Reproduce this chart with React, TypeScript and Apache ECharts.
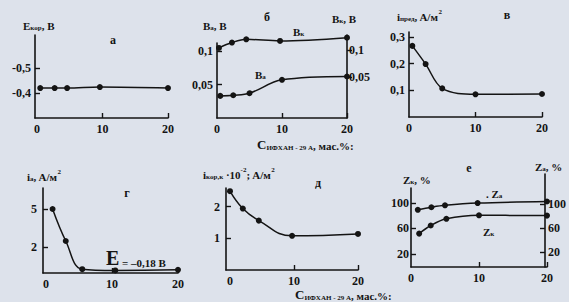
import React, { useEffect, useRef } from "react";
import * as echarts from "echarts";

// Panel а: E_кор vs concentration
const aX = [0.5, 2.7, 4.6, 9.6, 20];
const aY = [-0.42, -0.42, -0.42, -0.424, -0.42];
// Panel б: B_к (upper, right axis) and B_a (lower, left axis)
const bUpperX = [0.3, 2.3, 4.5, 9.7, 20];
const bUpperY = [0.104, 0.114, 0.12, 0.117, 0.123];
const bLowerX = [0.5, 2.5, 5, 10, 20];
const bLowerY = [0.033, 0.034, 0.037, 0.057, 0.062];
// Panel в: i_пред
const vX = [0.5, 2.5, 5, 10, 20];
const vY = [0.266, 0.198, 0.107, 0.085, 0.086];
// Panel г: i_a
const gX = [1, 3, 5.5, 10.5, 20];
const gY = [5.0, 2.5, 0.3, 0.2, 0.25];
// Panel д: i_кор,к ·10^-2
const dX = [0, 2, 4.5, 9.7, 20];
const dY = [2.49, 1.94, 1.56, 1.08, 1.14];
// Panel е: Z_a (upper), Z_к (lower)
const eUpperX = [1, 3, 5, 9.8, 20];
const eUpperY = [89, 93, 96, 99.5, 102];
const eLowerX = [1.2, 2.9, 5.2, 10, 20];
const eLowerY = [52, 64.6, 75, 80.5, 80];

// tick labels
const xLabelTicks = [0, 10, 20];
const aYTicks = [-0.5, -0.4];
const bLeftTicks = [0.05, 0.1];
const bRightTicks = [0.05, 0.1];
const vYTicks = [0.1, 0.2, 0.3];
const gYTicks = [2, 5];
const dYTicks = [1, 2];
const eLeftTicks = [20, 60, 100];
const eRightTicks = [20, 60, 100];

const INK = "#141414";
const BG = "#dde2eb";
const FONT = "Liberation Serif";

const pairs = (xs: number[], ys: number[]) => xs.map((x, i) => [x, ys[i]]);
const comma = (v: number) => String(v).replace(".", ",");

function xAxis(gridIndex: number, min: number, max: number, show = true): any {
  return {
    type: "value",
    gridIndex,
    min,
    max,
    show,
    axisLine: { show: true, onZero: false, lineStyle: { color: INK, width: 1.6 } },
    axisTick: { show: true, inside: true, length: 5, customValues: [10, 20], lineStyle: { color: INK, width: 1.4 } },
    axisLabel: {
      customValues: xLabelTicks,
      color: INK,
      fontFamily: FONT,
      fontWeight: "bold",
      fontSize: 12,
      margin: 5,
      formatter: (v: number) => String(v),
    },
    splitLine: { show: false },
  };
}

function yAxis(
  gridIndex: number,
  min: number,
  max: number,
  ticks: number[],
  opts: any = {}
): any {
  return {
    type: "value",
    gridIndex,
    min,
    max,
    inverse: !!opts.inverse,
    position: opts.position || "left",
    axisLine: { show: true, onZero: false, lineStyle: { color: INK, width: 1.6 } },
    axisTick: {
      show: true,
      inside: opts.tickInside !== false,
      length: 5,
      customValues: ticks,
      lineStyle: { color: INK, width: 1.4 },
    },
    axisLabel: {
      customValues: ticks,
      color: INK,
      fontFamily: FONT,
      fontWeight: "bold",
      fontSize: 12,
      margin: opts.margin ?? 4,
      formatter: (v: number) => comma(v),
    },
    splitLine: { show: false },
  };
}

function line(xi: number, yi: number, data: number[][], smooth = 0.35): any {
  return {
    type: "line",
    xAxisIndex: xi,
    yAxisIndex: yi,
    data,
    smooth,
    symbol: "circle",
    symbolSize: 6,
    itemStyle: { color: INK },
    lineStyle: { color: INK, width: 1.5 },
  };
}

const tok = (size: number, lh: number, va: string) => ({
  fontFamily: FONT,
  fontWeight: "bold",
  fontSize: size,
  fill: INK,
  color: INK,
  lineHeight: lh,
  verticalAlign: va,
});

const richBase = {
  m: tok(11, 14, "bottom"),
  s: tok(7, 8, "bottom"),
  p: tok(7, 8, "top"),
  big: tok(13, 15, "bottom"),
  huge: tok(20, 20, "bottom"),
};

const richCaption = {
  m: tok(11, 11, "bottom"),
  s: tok(7, 7, "bottom"),
  big: tok(13, 12, "bottom"),
};

function label(x: number, y: number, text: string, rich: any = richBase): any {
  return {
    type: "text",
    x,
    y,
    style: {
      text,
      rich,
      textAlign: "left",
      textVerticalAlign: "middle",
      fill: INK,
    },
  };
}

function title(x: number, y: number, text: string): any {
  return {
    type: "text",
    x,
    y,
    style: {
      text,
      font: `bold 12px "${FONT}"`,
      fill: INK,
      textAlign: "center",
      textVerticalAlign: "middle",
    },
  };
}

export default function App() {
  const ref = useRef<HTMLDivElement>(null);
  useEffect(() => {
    if (!ref.current) return;
    const chart = echarts.init(ref.current, undefined, { renderer: "svg" });
    const option: any = {
      animation: false,
      backgroundColor: BG,
      grid: [
        { left: 35, top: 35, width: 133, height: 83 }, // 0 а
        { left: 217, top: 43, width: 130, height: 75 }, // 1 б left
        { left: 217, top: 35, width: 130, height: 83 }, // 2 б right
        { left: 409, top: 32, width: 133, height: 85 }, // 3 в
        { left: 43, top: 188, width: 135, height: 85 }, // 4 г
        { left: 226, top: 188, width: 132, height: 82 }, // 5 д
        { left: 411, top: 188, width: 136, height: 79 }, // 6 е left
        { left: 411, top: 174, width: 136, height: 93 }, // 7 е right
      ],
      xAxis: [
        xAxis(0, -0.3, 20),
        xAxis(1, 0, 20),
        xAxis(2, 0, 20, false),
        xAxis(3, 0, 20),
        xAxis(4, -0.45, 20),
        xAxis(5, -0.625, 20),
        xAxis(6, 0, 20),
        xAxis(7, 0, 20, false),
      ],
      yAxis: [
        yAxis(0, -0.633, -0.3, aYTicks, { inverse: true }),
        yAxis(1, 0, 0.112, bLeftTicks),
        yAxis(2, -0.026, 0.128, bRightTicks, { position: "right", tickInside: false, margin: 2 }),
        yAxis(3, 0, 0.318, vYTicks),
        yAxis(4, 0, 6.64, gYTicks, { margin: 6 }),
        yAxis(5, 0, 2.59, dYTicks, { margin: 6 }),
        yAxis(6, 0, 123, eLeftTicks, { margin: 2 }),
        yAxis(7, -4.8, 150, eRightTicks, { position: "right", margin: 3 }),
      ],
      series: [
        line(0, 0, pairs(aX, aY)),
        line(2, 2, pairs(bUpperX, bUpperY)),
        line(1, 1, pairs(bLowerX, bLowerY)),
        line(3, 3, pairs(vX, vY)),
        line(4, 4, pairs(gX, gY), 0.4),
        line(5, 5, pairs(dX, dY), 0.45),
        line(6, 6, pairs(eUpperX, eUpperY)),
        line(6, 6, pairs(eLowerX, eLowerY)),
      ],
      graphic: [
        title(113, 40, "а"),
        title(267, 17, "б"),
        title(507, 15, "в"),
        title(127, 193, "г"),
        title(318, 183, "д"),
        title(469, 168, "е"),
        label(23, 24, "{m|E}{s|кор}{m|, B}"),
        label(203, 24, "{m|B}{s|а}{m|, B}"),
        label(332, 17, "{m|B}{s|к}{m|, B}"),
        label(293, 30, "{m|B}{s|к}"),
        label(255, 73, "{m|B}{s|а}"),
        label(397, 15, "{m|i}{s|пред}{m|, A/м}{p|2}"),
        label(27, 175, "{m|i}{s|а}{m|, A/м}{p|2}"),
        label(203, 173, "{m|i}{s|кор,к}{m| ·10}{p|-2}{m|; A/м}{p|2}"),
        label(403, 178, "{m|Z}{s|к}{m|, %}"),
        label(535, 165, "{m|Z}{s|а}{m|, %}"),
        label(486, 192, "{m|. Z}{s|а}"),
        label(483, 230, "{m|Z}{s|к}"),
        label(257, 145, "{big|C}{s|ИФХАН - 29 А}{m|, мас.%:}", richCaption),
        label(295, 295, "{big|C}{s|ИФХАН - 29 А}{m|, мас.%:}", richCaption),
        label(106, 258, "{huge|E}{m| = –0,18 B}"),
      ],
    };
    chart.setOption(option);
    return () => chart.dispose();
  }, []);
  return (
    <div
      ref={ref}
      style={{ position: "fixed", left: 0, top: 0, width: 569, height: 302 }}
    />
  );
}
